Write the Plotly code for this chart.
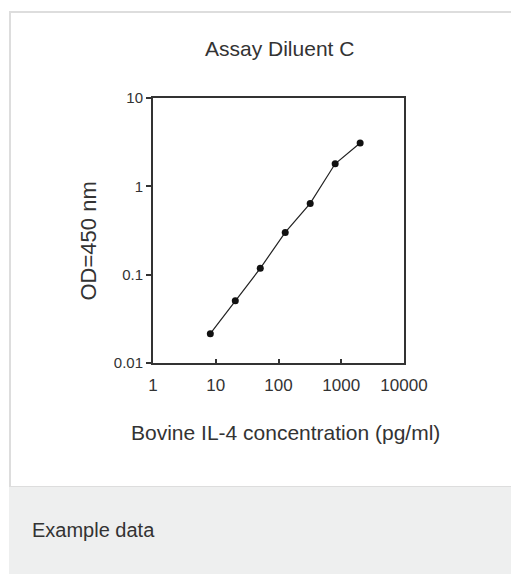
import plotly.graph_objects as go

# Data
concentration = [8.192, 20.48, 51.2, 128, 320, 800, 2000]
od450 = [0.0215, 0.0507, 0.118, 0.301, 0.641, 1.80, 3.10]
x_tickvals = [1, 10, 100, 1000, 10000]
x_ticktext = ["1", "10", "100", "1000", "10000"]
y_tickvals = [0.01, 0.1, 1, 10]
y_ticktext = ["0.01", "0.1", "1", "10"]

W, H = 511, 574
L, R, T, B = 153, 404, 98, 363  # plot area in pixels


def px(x):
    return (x - L) / (R - L)


def py(y):
    return (B - y) / (B - T)


fig = go.Figure()
fig.add_trace(go.Scatter(
    x=concentration, y=od450, mode="lines+markers",
    line=dict(color="#222222", width=1.2),
    marker=dict(color="#111111", size=7),
    showlegend=False, hoverinfo="x+y",
))

axis_common = dict(
    showline=True, linecolor="#333333", linewidth=2, mirror=True,
    showgrid=False, zeroline=False, tickcolor="#333333",
)

fig.update_xaxes(
    type="log", range=[0, 4], tickvals=x_tickvals, ticktext=x_ticktext,
    ticks="inside", ticklen=4, tickwidth=1.5, ticklabelstandoff=6,
    tickfont=dict(family="Liberation Sans, Arial", size=17, color="#333333"),
    **axis_common,
)
fig.update_yaxes(
    type="log", range=[-2, 1], tickvals=y_tickvals, ticktext=y_ticktext,
    ticks="outside", ticklen=5, tickwidth=1.5,
    tickfont=dict(family="Liberation Sans, Arial", size=15, color="#333333"),
    **axis_common,
)

shapes = [
    # outer frame
    dict(type="rect", xref="paper", yref="paper",
         x0=px(10), x1=px(520), y0=py(487), y1=py(12),
         line=dict(color="#dddddd", width=2), fillcolor="rgba(0,0,0,0)", layer="below"),
    # footer
    dict(type="rect", xref="paper", yref="paper",
         x0=px(9), x1=px(520), y0=py(580), y1=py(487),
         line=dict(width=0), fillcolor="#eeefef", layer="below"),
]

font_fam = "Liberation Sans, Arial"
annotations = [
    dict(text="Assay Diluent C", xref="paper", yref="paper",
         x=px(279.5), y=py(48), xanchor="center", yanchor="middle", showarrow=False,
         font=dict(family=font_fam, size=21, color="#333333")),
    dict(text="Bovine IL-4 concentration (pg/ml)", xref="paper", yref="paper",
         x=px(285.5), y=py(432), xanchor="center", yanchor="middle", showarrow=False,
         font=dict(family=font_fam, size=21, color="#333333")),
    dict(text="OD=450 nm", xref="paper", yref="paper", textangle=-90,
         x=px(87.5), y=py(241), xanchor="center", yanchor="middle", showarrow=False,
         font=dict(family=font_fam, size=22, color="#333333")),
    dict(text="Example data", xref="paper", yref="paper",
         x=px(30), y=py(530), xanchor="left", yanchor="middle", showarrow=False,
         font=dict(family=font_fam, size=20, color="#333333")),
]

fig.update_layout(
    width=W, height=H,
    margin=dict(l=L, r=W - R, t=T, b=H - B, autoexpand=False),
    paper_bgcolor="white", plot_bgcolor="white",
    shapes=shapes, annotations=annotations,
)

fig.write_html("out.html", config={"displayModeBar": False},
               post_script="document.body.style.margin='0';document.body.style.overflow='hidden';")
